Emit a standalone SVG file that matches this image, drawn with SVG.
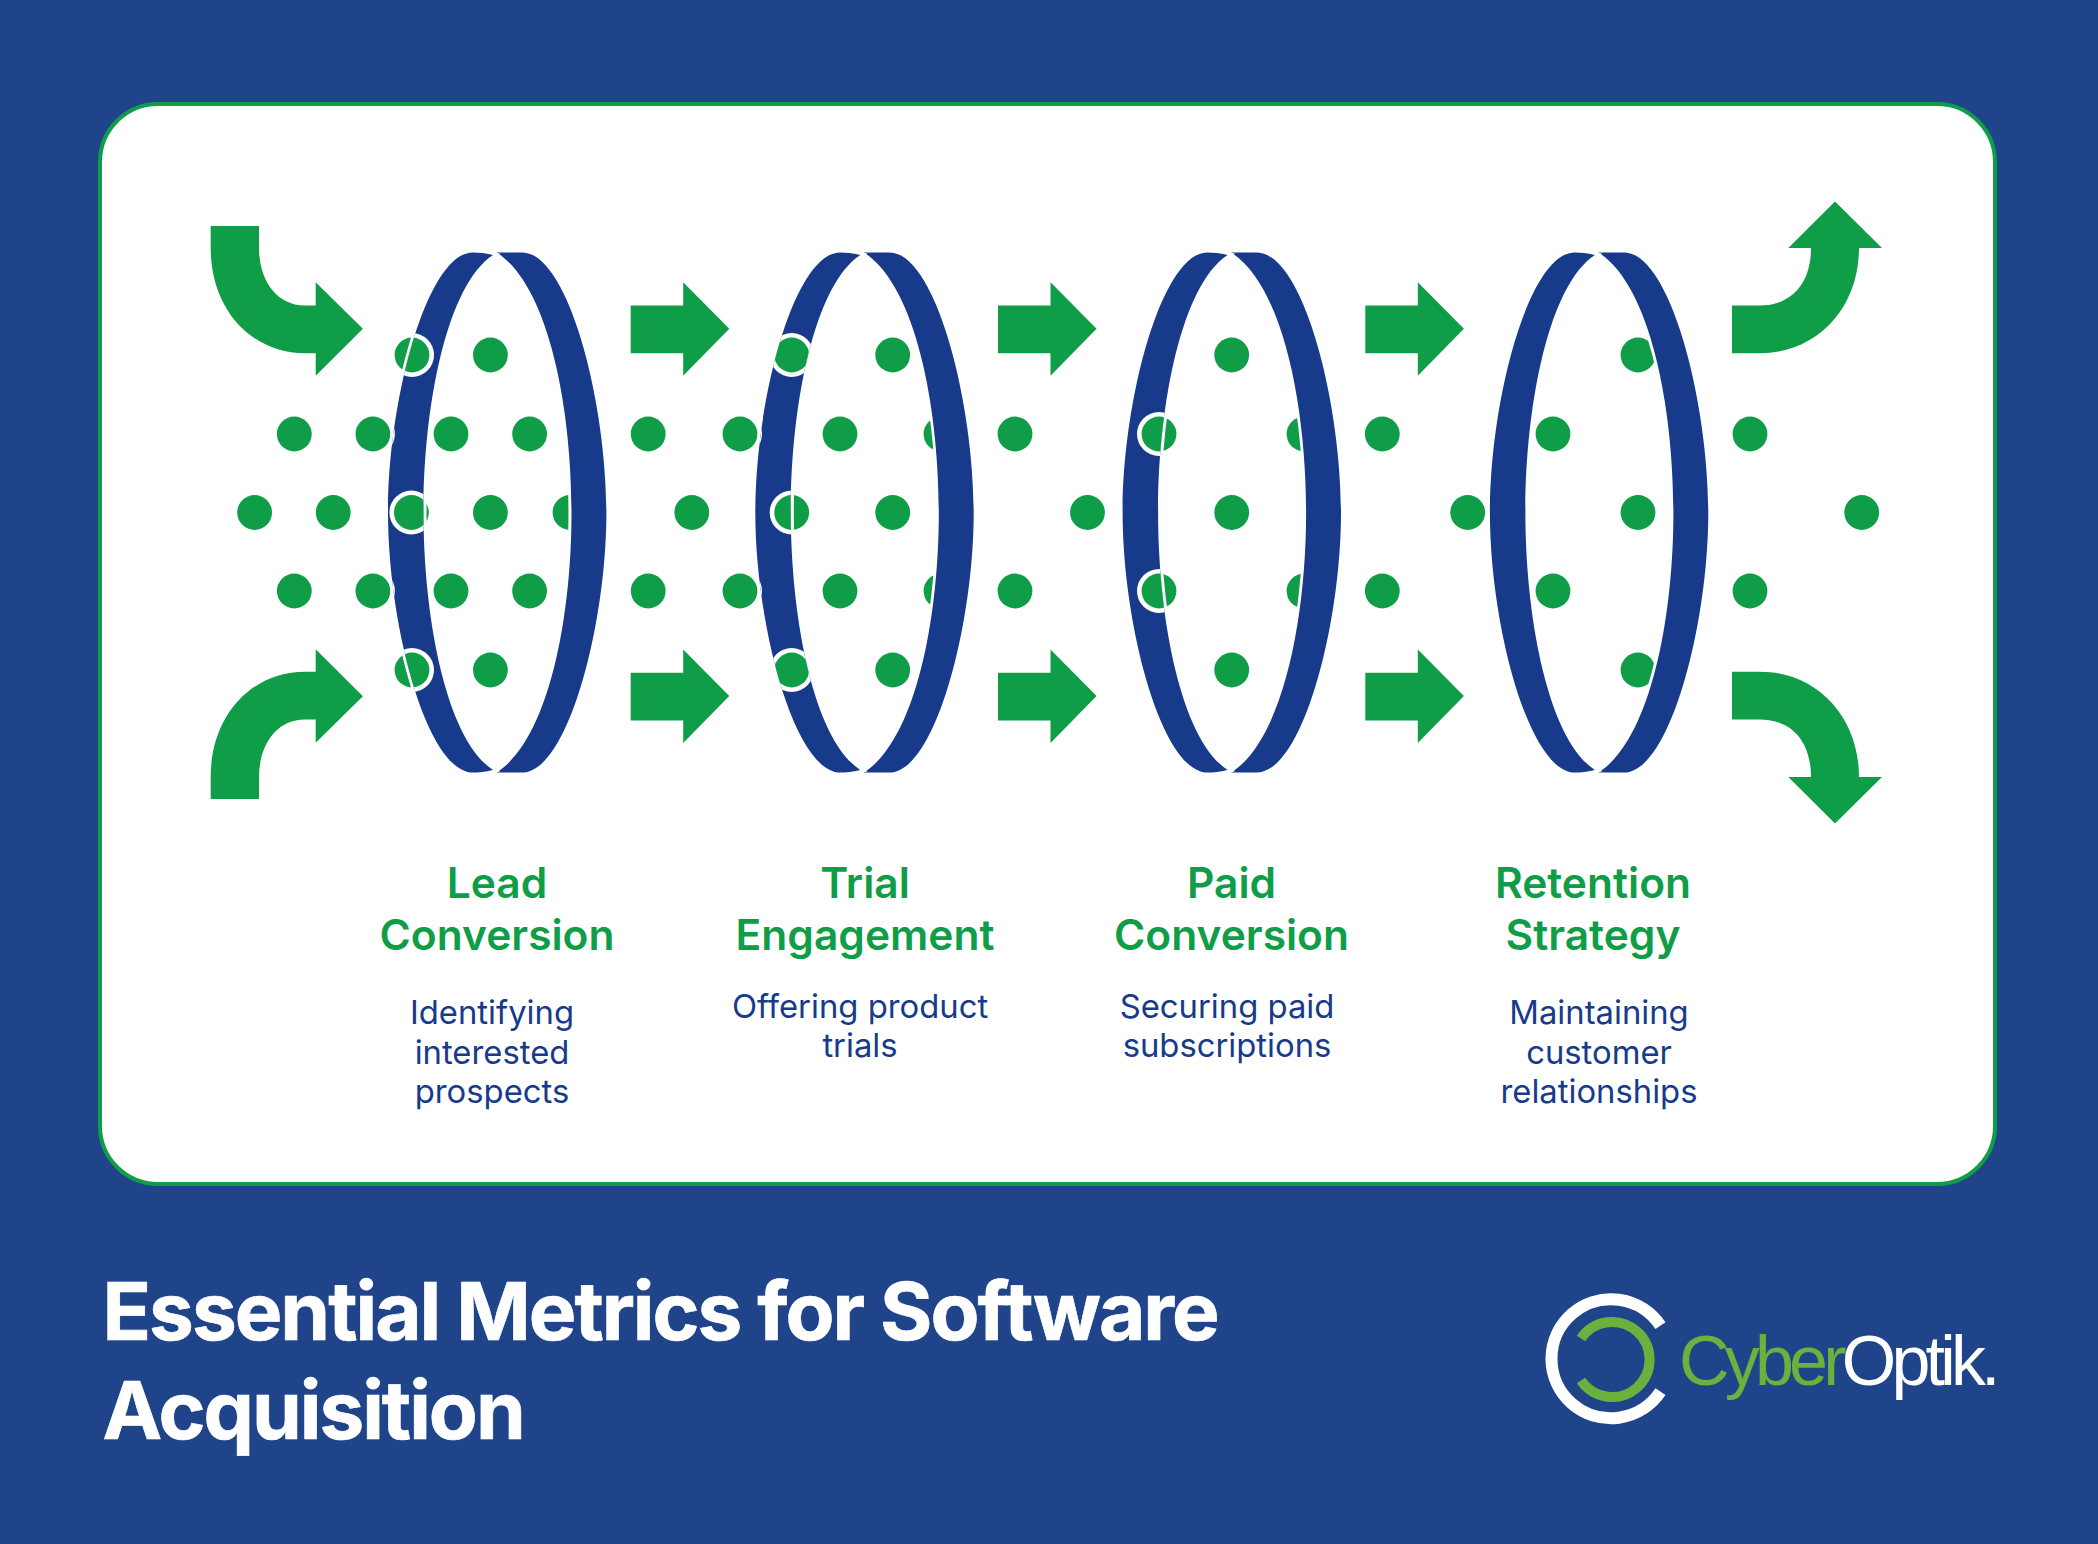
<svg xmlns="http://www.w3.org/2000/svg" width="2098" height="1544" viewBox="0 0 2098 1544">
<style>
.d{fill:#0f9d47}
.w{fill:#fff}
.c{fill:#173b8a;stroke:#fff;stroke-width:6;paint-order:stroke}
.a{fill:#0f9d47}
text{font-family:Inter,"Liberation Sans",sans-serif}
.t{font-size:42.5px;font-weight:600;fill:#0f9d47;text-anchor:middle}
.s{font-size:32.8px;font-weight:400;fill:#173b8a;text-anchor:middle}
.h{font-size:80px;font-weight:700;fill:#fff;stroke:#fff;stroke-width:.7px;letter-spacing:-2px}
.l{font-family:"Liberation Sans",Arial,sans-serif;font-size:70px}
</style>
<defs>
<path id="cl" d="M493 255C485 253 479 252.4 473 252.4C427 252.4 388 400 388 512.5C388 625 427 772.6 473 772.6C479 772.6 485 772 493 770C447 740 423.5 620 423.5 512.5C423.5 405 447 285 493 255Z"/>
<path id="cr" d="M496.5 252.4H522C568 252.4 606.4 400 606.4 512.5C606.4 625 568 772.6 522 772.6H496.5C548 740 571.5 620 571.5 512.5C571.5 405 548 285 496.5 252.4Z"/>
<clipPath id="k1"><use href="#cl"/></clipPath>
<clipPath id="k2"><use href="#cl" x="367.3"/></clipPath>
<clipPath id="k3"><use href="#cl" x="734.6"/></clipPath>
<path id="as" d="M630.7 305.5H683.2V282.2L729.3 328.8L683.2 375.7V353.3H630.7Z"/>
<circle id="dot" r="17.4" class="d"/>
<circle id="halo" r="22" class="w"/>
</defs>
<rect width="2098" height="1544" fill="#1f4489"/>
<rect id="card" x="100" y="104" width="1895" height="1080" rx="58" fill="#fff" stroke="#0f9d47" stroke-width="4"/>

<g id="flow-arrows">
<path id="arrow-in-top" class="a" d="M210.7 226H259V248C259 278 275 305.5 305 305.5H315.7V282.2L362.9 328.8L315.7 375.7V353.3H305C252 353.3 210.7 310 210.7 248Z"/>
<path id="arrow-in-bottom" class="a" d="M210.7 799H259V777C259 747 275 719.5 305 719.5H315.7V742.8L362.9 696.2L315.7 649.3V671.7H305C252 671.7 210.7 715 210.7 777Z"/>
<use href="#as" class="a"/>
<use href="#as" class="a" x="367.3"/>
<use href="#as" class="a" x="734.6"/>
<use href="#as" class="a" y="367.3"/>
<use href="#as" class="a" x="367.3" y="367.3"/>
<use href="#as" class="a" x="734.6" y="367.3"/>
<path id="arrow-out-top" class="a" d="M1732 305.5H1760C1790 305.5 1811 285 1811 248H1788.3L1835 201.4L1882 248H1859C1859 310 1815 353.3 1760 353.3H1732Z"/>
<path id="arrow-out-bottom" class="a" d="M1732 719.5H1760C1790 719.5 1811 740 1811 777H1788.3L1835 823.6L1882 777H1859C1859 715 1815 671.7 1760 671.7H1732Z"/>
</g>

<g id="dots">
<use href="#dot" x="412" y="355"/><use href="#dot" x="490.4" y="355"/><use href="#dot" x="791.7" y="355"/><use href="#dot" x="892.7" y="355"/><use href="#dot" x="1231.7" y="355"/><use href="#dot" x="1638" y="355"/>
<use href="#dot" x="294.3" y="434"/><use href="#dot" x="372.9" y="434"/><use href="#dot" x="451" y="434"/><use href="#dot" x="529.6" y="434"/><use href="#dot" x="648.2" y="434"/><use href="#dot" x="740" y="434"/><use href="#dot" x="840" y="434"/><use href="#dot" x="941" y="434"/><use href="#dot" x="1015" y="434"/><use href="#dot" x="1159" y="434"/><use href="#dot" x="1304" y="434"/><use href="#dot" x="1382.3" y="434"/><use href="#dot" x="1553" y="434"/><use href="#dot" x="1750" y="434"/>
<use href="#dot" x="254.6" y="512.5"/><use href="#dot" x="333.2" y="512.5"/><use href="#dot" x="411.4" y="512.5"/><use href="#dot" x="490.4" y="512.5"/><use href="#dot" x="570" y="512.5"/><use href="#dot" x="691.8" y="512.5"/><use href="#dot" x="791.7" y="512.5"/><use href="#dot" x="892.7" y="512.5"/><use href="#dot" x="1087.5" y="512.5"/><use href="#dot" x="1231.7" y="512.5"/><use href="#dot" x="1467.7" y="512.5"/><use href="#dot" x="1638" y="512.5"/><use href="#dot" x="1861.7" y="512.5"/>
<use href="#dot" x="294.3" y="591"/><use href="#dot" x="372.9" y="591"/><use href="#dot" x="451" y="591"/><use href="#dot" x="529.6" y="591"/><use href="#dot" x="648.2" y="591"/><use href="#dot" x="740" y="591"/><use href="#dot" x="840" y="591"/><use href="#dot" x="941" y="591"/><use href="#dot" x="1015" y="591"/><use href="#dot" x="1159" y="591"/><use href="#dot" x="1304" y="591"/><use href="#dot" x="1382.3" y="591"/><use href="#dot" x="1553" y="591"/><use href="#dot" x="1750" y="591"/>
<use href="#dot" x="412" y="670"/><use href="#dot" x="490.4" y="670"/><use href="#dot" x="791.7" y="670"/><use href="#dot" x="892.7" y="670"/><use href="#dot" x="1231.7" y="670"/><use href="#dot" x="1638" y="670"/>
</g>

<g id="lens-1"><use href="#cr" class="c"/><use href="#cl" class="c"/></g>
<g id="lens-2" transform="translate(367.3)"><use href="#cr" class="c"/><use href="#cl" class="c"/></g>
<g id="lens-3" transform="translate(734.6)"><use href="#cr" class="c"/><use href="#cl" class="c"/></g>
<g id="lens-4" transform="translate(1101.9)"><use href="#cr" class="c"/><use href="#cl" class="c"/></g>

<g id="ringed-dots-1" clip-path="url(#k1)">
<use href="#halo" x="412" y="355"/><use href="#dot" x="412" y="355"/>
<use href="#halo" x="372.9" y="434"/><use href="#dot" x="372.9" y="434"/>
<use href="#halo" x="411.4" y="512.5"/><use href="#dot" x="411.4" y="512.5"/>
<use href="#halo" x="372.9" y="591"/><use href="#dot" x="372.9" y="591"/>
<use href="#halo" x="412" y="670"/><use href="#dot" x="412" y="670"/>
</g>
<g id="ringed-dots-2" clip-path="url(#k2)">
<use href="#halo" x="791.7" y="355"/><use href="#dot" x="791.7" y="355"/>
<use href="#halo" x="740" y="434"/><use href="#dot" x="740" y="434"/>
<use href="#halo" x="791.7" y="512.5"/><use href="#dot" x="791.7" y="512.5"/>
<use href="#halo" x="740" y="591"/><use href="#dot" x="740" y="591"/>
<use href="#halo" x="791.7" y="670"/><use href="#dot" x="791.7" y="670"/>
</g>
<g id="ringed-dots-3" clip-path="url(#k3)">
<use href="#halo" x="1159" y="434"/><use href="#dot" x="1159" y="434"/>
<use href="#halo" x="1159" y="591"/><use href="#dot" x="1159" y="591"/>
</g>

<g id="stage-lead">
<text class="t" x="497" y="897.5">Lead</text><text class="t" x="497" y="950">Conversion</text>
<text class="s" x="492" y="1024">Identifying</text><text class="s" x="492" y="1063.5">interested</text><text class="s" x="492" y="1103">prospects</text>
</g>
<g id="stage-trial">
<text class="t" x="865" y="897.5">Trial</text><text class="t" x="865" y="950">Engagement</text>
<text class="s" x="860" y="1018">Offering product</text><text class="s" x="860" y="1057">trials</text>
</g>
<g id="stage-paid">
<text class="t" x="1231.5" y="897.5">Paid</text><text class="t" x="1231.5" y="950">Conversion</text>
<text class="s" x="1227" y="1018">Securing paid</text><text class="s" x="1227" y="1057">subscriptions</text>
</g>
<g id="stage-retention">
<text class="t" x="1593" y="897.5">Retention</text><text class="t" x="1593" y="950">Strategy</text>
<text class="s" x="1599" y="1024">Maintaining</text><text class="s" x="1599" y="1063.5">customer</text><text class="s" x="1599" y="1103">relationships</text>
</g>

<g id="title">
<text class="h" x="102.5" y="1340">Essential Metrics for Software</text>
<text class="h" x="102.5" y="1438.5">Acquisition</text>
</g>

<g id="logo">
<path d="M1660.5 1325.7A59.5 59.5 0 1 0 1660.5 1391.7" fill="none" stroke="#fff" stroke-width="12"/>
<path d="M1581 1338.5A37.5 37.5 0 1 1 1581 1380.5" fill="none" stroke="#6ab23d" stroke-width="10"/>
<text class="l" x="1679" y="1385" letter-spacing="-4.8"><tspan fill="#6ab23d">Cyber</tspan><tspan fill="#fff">Optik.</tspan></text>
</g>
</svg>
